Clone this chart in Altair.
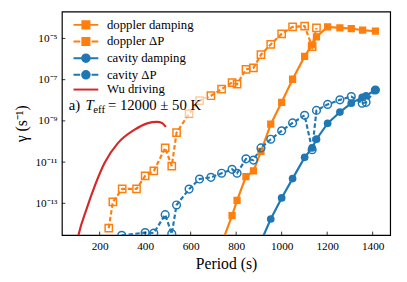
import altair as alt
import pandas as pd

# ---------------- data ----------------
series_names = ["doppler damping", "doppler ΔP", "cavity damping", "cavity ΔP", "Wu driving"]
series_colors = ["#ff7f0e", "#ff7f0e", "#1f77b4", "#1f77b4", "#d62728"]

doppler_damping_period = [736, 782, 804, 843, 876, 909, 952, 1000, 1048, 1101, 1134, 1153,
                          1202, 1256, 1306, 1356, 1412]
doppler_damping_log = [-14.95, -13.60, -12.86, -11.70, -11.43, -10.48, -9.16, -8.10, -6.98,
                       -5.87, -5.31, -4.92, -4.44, -4.49, -4.52, -4.60, -4.65]

doppler_dp_period = [240, 258, 299, 362, 400, 438, 488, 517, 538, 593, 639, 689, 736, 782,
                     804, 843, 876, 909, 952, 1000, 1048, 1101, 1134, 1153]
doppler_dp_log = [-14.20, -12.93, -12.30, -12.30, -11.67, -11.43, -10.31, -11.19, -9.57,
                  -8.65, -8.02, -7.78, -7.46, -7.14, -7.22, -6.50, -6.43, -5.79, -5.29,
                  -4.78, -4.44, -4.40, -5.40, -4.49]

cavity_damping_period = [909, 952, 1000, 1048, 1101, 1134, 1153, 1202, 1256, 1306, 1354,
                         1371, 1412]
cavity_damping_log = [-14.85, -13.76, -12.74, -11.80, -10.77, -10.31, -9.89, -9.12, -8.57,
                      -8.14, -7.86, -7.78, -7.50]

cavity_dp_period = [297, 400, 438, 488, 517, 538, 593, 639, 689, 736, 782, 804, 843, 876,
                    909, 952, 1000, 1048, 1101, 1134, 1153, 1202, 1256, 1306, 1354, 1371, 1412]
cavity_dp_log = [-14.55, -14.42, -14.44, -13.55, -14.48, -13.08, -12.31, -11.82, -11.74,
                 -11.54, -11.35, -11.54, -10.84, -10.90, -10.31, -9.89, -9.48, -9.10, -8.73,
                 -10.40, -8.49, -8.20, -7.98, -7.82, -8.14, -8.10, -7.50]

wu_period = [100, 107, 143, 179, 222, 280, 352, 409, 452, 474, 491]
wu_log = [-14.90, -14.54, -13.26, -12.14, -11.03, -10.08, -9.44, -9.12, -9.05, -9.10, -9.29]

x_ticks = [200, 400, 600, 800, 1000, 1200, 1400]
y_tick_exps = [-13, -11, -9, -7, -5]
y_tick_labels = ["10⁻¹³", "10⁻¹¹", "10⁻⁹", "10⁻⁷", "10⁻⁵"]

annotation_parts = ["a)", "T", "eff", "= 12000 ± 50 K"]

# ---------------- build table ----------------
rows = []
for name, per, lg in [
    (series_names[0], doppler_damping_period, doppler_damping_log),
    (series_names[1], doppler_dp_period, doppler_dp_log),
    (series_names[2], cavity_damping_period, cavity_damping_log),
    (series_names[3], cavity_dp_period, cavity_dp_log),
    (series_names[4], wu_period, wu_log),
]:
    for i, (p, l) in enumerate(zip(per, lg)):
        rows.append({"series": name, "P": p, "gamma": 10.0 ** l, "i": i})
df = pd.DataFrame(rows)

FONT = "Liberation Serif"
W, H = 335, 228

expr_parts = []
for e, t in zip(y_tick_exps, y_tick_labels):
    expr_parts.append(f"round(log(datum.value)/LN10) == {e} ? '{t}'")
label_expr = " : ".join(expr_parts) + " : ''"

x_enc = alt.X("P:Q", scale=alt.Scale(domain=[34, 1477], nice=False, zero=False),
              axis=alt.Axis(values=x_ticks, title="Period (s)", labelPadding=6,
                            titlePadding=4, format="d"))
y_enc = alt.Y("gamma:Q", scale=alt.Scale(type="log", domain=[10 ** -14.54, 10 ** -3.7], nice=False),
              axis=alt.Axis(values=[10.0 ** e for e in y_tick_exps], labelExpr=label_expr,
                            title="γ (s⁻¹)", labelPadding=5, titlePadding=6))

# legend symbol paths (unit = sqrt(size)/2 px)
line_full = "M-2.3,0H2.3"
line_dash = "M-2.3,0H-1.05M1.05,0H2.3"
sq = "M-0.66,-0.66H0.66V0.66H-0.66Z"
sq_in = "M-0.33,0H0.33"
circ = "M0.7,0A0.7,0.7,0,1,1,-0.7,0A0.7,0.7,0,1,1,0.7,0Z"
paths = {
    series_names[0]: line_full + sq,
    series_names[1]: line_dash + sq + sq_in,
    series_names[2]: line_full + circ,
    series_names[3]: line_dash + circ + sq_in,
    series_names[4]: line_full,
}
shape_expr = " : ".join([f"datum.value === '{k}' ? '{v}'" for k, v in paths.items()]) + " : 'circle'"
color_lookup = " : ".join([f"datum.value === '{k}' ? '{c}'" for k, c in zip(series_names, series_colors)]) + " : 'black'"
fill_expr = ("(datum.value === 'doppler ΔP' || datum.value === 'cavity ΔP' || datum.value === 'Wu driving')"
             " ? 'transparent' : (" + color_lookup + ")")

legend = alt.Legend(
    title=None, orient="none", legendX=5, legendY=7, padding=0,
    symbolSize=121, symbolOffset=13, labelOffset=15, rowPadding=0,
    labelFont=FONT, labelFontSize=13, labelColor="black", labelLimit=200,
    symbolType={"expr": shape_expr},
    symbolFillColor={"expr": fill_expr},
    symbolStrokeColor={"expr": color_lookup},
    symbolStrokeWidth=2, symbolOpacity=1,
)
color_enc = alt.Color("series:N", scale=alt.Scale(domain=series_names, range=series_colors),
                      legend=legend)

base = alt.Chart(df)
layers = []
styles = [
    (series_names[0], None, "square", True),
    (series_names[1], [4.5, 2.5], "square", False),
    (series_names[2], None, "circle", True),
    (series_names[3], [4.5, 2.5], "circle", False),
]
for name, dash, shape, filled in styles:
    f = base.transform_filter(alt.datum.series == name)
    lkw = dict(clip=True, strokeWidth=2.2)
    if dash:
        lkw["strokeDash"] = dash
    layers.append(f.mark_line(**lkw).encode(x=x_enc, y=y_enc, color=color_enc, order="i:Q"))
    size = 55 if shape == "square" else 62
    pkw = dict(clip=True, shape=shape, filled=filled, size=size, opacity=1)
    if not filled:
        pkw["strokeWidth"] = 1.5
    layers.append(f.mark_point(**pkw).encode(x=x_enc, y=y_enc, color=color_enc))

layers.append(base.transform_filter(alt.datum.series == series_names[4])
              .mark_line(clip=True, strokeWidth=2.2, interpolate="monotone")
              .encode(x=x_enc, y=y_enc, color=color_enc, order="i:Q"))

# inward ticks
xt = alt.Chart(pd.DataFrame({"P": x_ticks})).mark_rule(color="black", strokeWidth=0.8).encode(
    x=x_enc, y=alt.value(H), y2=alt.value(H - 3.5))
yt = alt.Chart(pd.DataFrame({"gamma": [10.0 ** e for e in y_tick_exps]})).mark_rule(
    color="black", strokeWidth=0.8).encode(y=y_enc, x=alt.value(0), x2=alt.value(3.5))
layers += [xt, yt]

one = pd.DataFrame({"k": [0]})
bbox = alt.Chart(one).mark_rect(fill="white", opacity=0.6).encode(
    x=alt.value(3), x2=alt.value(148), y=alt.value(86), y2=alt.value(108))
tx = dict(align="left", baseline="alphabetic", font=FONT, color="black")
t1 = alt.Chart(one).mark_text(fontSize=15, **tx).encode(
    x=alt.value(7), y=alt.value(100), text=alt.value(annotation_parts[0]))
t2 = alt.Chart(one).mark_text(fontSize=15, fontStyle="italic", **tx).encode(
    x=alt.value(24), y=alt.value(100), text=alt.value(annotation_parts[1]))
t3 = alt.Chart(one).mark_text(fontSize=11, **tx).encode(
    x=alt.value(32), y=alt.value(103), text=alt.value(annotation_parts[2]))
t4 = alt.Chart(one).mark_text(fontSize=15, **tx).encode(
    x=alt.value(47), y=alt.value(100), text=alt.value(annotation_parts[3]))
layers += [bbox, t1, t2, t3, t4]

chart = alt.layer(*layers).properties(
    width=W, height=H,
    autosize=alt.AutoSizeParams(type="none"),
    padding={"left": 55, "top": 1, "right": 9, "bottom": 37},
).configure_view(stroke="black", strokeWidth=1.2).configure_axis(
    domain=False, ticks=False, grid=False, labelFont=FONT, labelFontSize=11.5,
    labelColor="black", titleFont=FONT, titleFontSize=16, titleColor="black",
    titleFontWeight="normal",
)

chart.save("out.html", embed_options={"renderer": "svg", "actions": False})
